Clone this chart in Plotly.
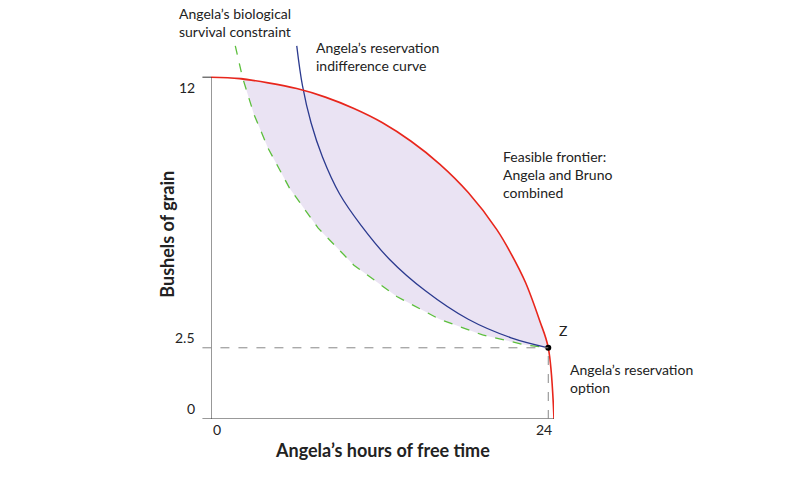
import plotly.graph_objects as go

frontier_x = [0, 2, 4, 6, 8, 10, 12, 14, 16, 18, 20, 21, 22, 23, 23.6, 24]
frontier_y = [12, 11.95, 11.8, 11.6, 11.3, 10.9, 10.4, 9.75, 8.95, 7.95, 6.65, 5.8, 4.8, 3.45, 2.5, 0]
ic_x = [6.0, 6.4, 7.0, 7.8, 9.0, 10.5, 12.5, 15, 18, 21, 23.6]
ic_y = [13.1, 11.7, 10.4, 9.2, 7.9, 6.8, 5.6, 4.5, 3.5, 2.85, 2.5]
surv_x = [1.7, 2.2, 3.0, 4.0, 5.5, 7.5, 10, 13, 16, 19, 22, 23.6]
surv_y = [13.1, 12.0, 10.7, 9.5, 8.1, 6.7, 5.4, 4.3, 3.5, 2.95, 2.6, 2.5]
z_x, z_y = 23.6, 2.5

XMAX, YMAX = 24, 13.2
font = "Lato"
fig = go.Figure()
poly_x = [x for x in frontier_x if x <= 23.6] + surv_x[::-1][:-1]
poly_y = [y for x, y in zip(frontier_x, frontier_y) if x <= 23.6] + surv_y[::-1][:-1]
fig.add_trace(go.Scatter(x=poly_x, y=poly_y, fill="toself", fillcolor="rgba(232,224,242,0.9)",
                         line=dict(width=0), mode="lines", hoverinfo="skip"))
fig.add_trace(go.Scatter(x=surv_x, y=surv_y, mode="lines", line=dict(color="#5cbf3c", width=1.3, dash="dash")))
fig.add_trace(go.Scatter(x=ic_x, y=ic_y, mode="lines", line=dict(color="#2b3a8f", width=1.3, shape="spline")))
fig.add_trace(go.Scatter(x=frontier_x, y=frontier_y, mode="lines", line=dict(color="#e8261c", width=1.6, shape="spline")))
fig.add_trace(go.Scatter(x=[z_x], y=[z_y], mode="markers", marker=dict(color="black", size=6)))

shapes = [
    dict(type="line", x0=0, x1=0, y0=0, y1=12, line=dict(color="#333", width=1)),
    dict(type="line", x0=0, x1=24, y0=0, y1=0, line=dict(color="#333", width=1)),
    dict(type="line", xref="paper", x0=-0.6/XMAX, x1=0, y0=12, y1=12, line=dict(color="#333", width=1)),
    dict(type="line", xref="paper", x0=-0.6/XMAX, x1=0, y0=0, y1=0, line=dict(color="#333", width=1)),
    dict(type="line", xref="paper", x0=-0.6/XMAX, x1=z_x/XMAX, y0=z_y, y1=z_y, line=dict(color="#888", width=1, dash="dash")),
    dict(type="line", x0=z_x, x1=z_x, y0=0, y1=z_y, line=dict(color="#888", width=1, dash="dash")),
]
f = dict(family=font, size=14, color="#222")

def A(x, y, text, **kw):
    d = dict(xref="paper", yref="paper", x=x / XMAX, y=y / YMAX, text=text, showarrow=False, font=f)
    d.update(kw)
    return d

ann = [
    A(0, -0.75, "0"),
    A(24, -0.75, "24"),
    A(-1.0, 12, "12", xanchor="right"),
    A(-1.0, 2.5, "2.5", xanchor="right"),
    A(-1.0, 0, "0", xanchor="right"),
    A(12, -1.55, "<b>Angela’s hours of free time</b>", font=dict(family=font, size=18, color="#222")),
    A(-4.0, 6.5, "<b>Bushels of grain</b>", textangle=-90, font=dict(family=font, size=18, color="#222")),
    A(-2.4, 14.6, "Angela’s biological<br>survival constraint", xanchor="left", yanchor="top", align="left"),
    A(7.2, 13.4, "Angela’s reservation<br>indifference curve", xanchor="left", yanchor="top", align="left"),
    A(20.3, 9.6, "Feasible frontier:<br>Angela and Bruno<br>combined", xanchor="left", yanchor="top", align="left"),
    A(24.2, 2.75, "Z", xanchor="left"),
    A(25.0, 2.1, "Angela’s reservation<br>option", xanchor="left", yanchor="top", align="left"),
]
fig.update_layout(
    width=810, height=479, margin=dict(l=203, r=264, t=35, b=68),
    plot_bgcolor="white", paper_bgcolor="white", showlegend=False,
    xaxis=dict(range=[0, XMAX], visible=False),
    yaxis=dict(range=[0, YMAX], visible=False),
    shapes=shapes, annotations=ann,
)
fig.write_html("out.html")
